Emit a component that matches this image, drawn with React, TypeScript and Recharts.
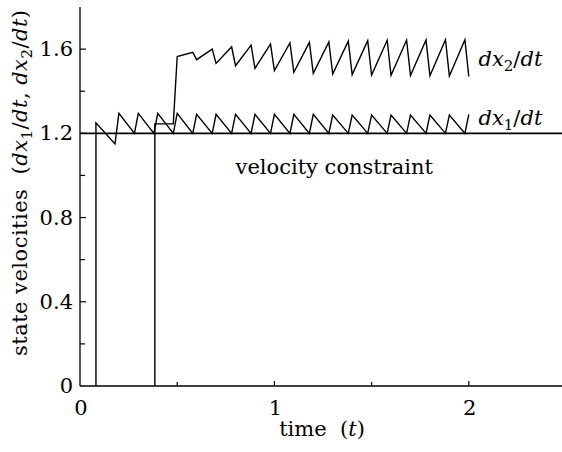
import { LineChart, Line, XAxis, YAxis, ReferenceLine, ReferenceDot } from "recharts";

// time samples and velocities
const dx1Time = [0.082, 0.082, 0.18, 0.2, 0.28, 0.3, 0.38, 0.4, 0.48, 0.5, 0.58, 0.6, 0.68, 0.7, 0.78, 0.8, 0.88, 0.9, 0.98, 1.0, 1.08, 1.1, 1.18, 1.2, 1.28, 1.3, 1.38, 1.4, 1.48, 1.5, 1.58, 1.6, 1.68, 1.7, 1.78, 1.8, 1.88, 1.9, 1.98, 2.0];
const dx1Value = [0, 1.25, 1.15, 1.295, 1.2, 1.295, 1.2, 1.295, 1.2, 1.295, 1.2, 1.29, 1.2, 1.29, 1.2, 1.29, 1.2, 1.29, 1.2, 1.29, 1.2, 1.29, 1.2, 1.29, 1.2, 1.287, 1.2, 1.287, 1.2, 1.287, 1.2, 1.287, 1.2, 1.287, 1.2, 1.287, 1.2, 1.287, 1.2, 1.29];

const dx2Time = [0.385, 0.385, 0.48, 0.5, 0.58, 0.6, 0.68, 0.7, 0.78, 0.8, 0.88, 0.9, 0.98, 1.0, 1.08, 1.1, 1.18, 1.2, 1.28, 1.3, 1.38, 1.4, 1.48, 1.5, 1.58, 1.6, 1.68, 1.7, 1.78, 1.8, 1.88, 1.9, 1.98, 2.0];
const dx2Value = [0, 1.245, 1.245, 1.565, 1.585, 1.55, 1.6, 1.532, 1.611, 1.521, 1.619, 1.509, 1.624, 1.498, 1.629, 1.49, 1.632, 1.485, 1.634, 1.482, 1.638, 1.479, 1.64, 1.477, 1.642, 1.476, 1.643, 1.474, 1.644, 1.473, 1.645, 1.472, 1.645, 1.47];

const velocityLimit = 1.2;

const xTicks = [0, 0.5, 1, 1.5, 2, 2.5];
const xLabels = [0, 1, 2];
const yTicks = [0, 0.2, 0.4, 0.6, 0.8, 1.0, 1.2, 1.4, 1.6, 1.8];
const yLabels = [0, 0.4, 0.8, 1.2, 1.6];

const dx1Data = dx1Time.map((t, i) => ({ t, v: dx1Value[i] }));
const dx2Data = dx2Time.map((t, i) => ({ t, v: dx2Value[i] }));

const FONT = "DejaVu Serif";
const FS = 21;

const BottomTick = (props: any) => {
  const { x, y, payload } = props;
  const v = payload.value;
  const major = xLabels.includes(v);
  return (
    <g>
      {v > 0 && v < 2.5 && (
        <line x1={x} x2={x} y1={y} y2={y - (major ? 5 : 4)} stroke="#000" strokeWidth={1.2} />
      )}
      {major && (
        <text x={x + 1} y={y + 29} textAnchor="middle" fontFamily={FONT} fontSize={FS} fill="#000">
          {v}
        </text>
      )}
    </g>
  );
};

const TopTick = (props: any) => {
  const { x, y, payload } = props;
  const v = payload.value;
  if (v <= 0 || v >= 2.5) return <g />;
  return <line x1={x} x2={x} y1={y} y2={y + (xLabels.includes(v) ? 5 : 4)} stroke="#000" strokeWidth={1.2} />;
};

const LeftTick = (props: any) => {
  const { x, y, payload } = props;
  const v = payload.value;
  const major = yLabels.includes(v);
  return (
    <g>
      {v > 0 && v < 1.8 && (
        <line x1={x} x2={x + (major ? 6 : 5)} y1={y} y2={y} stroke="#000" strokeWidth={1.2} />
      )}
      {major && (
        <text x={x - 7} y={y + 7} textAnchor="end" fontFamily={FONT} fontSize={FS} fill="#000">
          {v === 0 ? "0" : v.toFixed(1)}
        </text>
      )}
    </g>
  );
};

const RightTick = (props: any) => {
  const { x, y, payload } = props;
  const v = payload.value;
  if (v <= 0 || v >= 1.8) return <g />;
  return <line x1={x} x2={x - 5} y1={y} y2={y} stroke="#000" strokeWidth={1.2} />;
};

const subStyle = { fontSize: 15 };

const rateText = (n: string) => [
  <tspan key="a" fontStyle="italic">dx</tspan>,
  <tspan key="b" style={subStyle} dy={5}>{n}</tspan>,
  <tspan key="c" dy={-5}>/</tspan>,
  <tspan key="d" fontStyle="italic">dt</tspan>,
];

const yTitle = () => (
  <text
    transform="rotate(-90)"
    x={-183}
    y={27}
    textAnchor="middle"
    textLength={346}
    lengthAdjust="spacing"
    fontFamily={FONT}
    fontSize={FS}
    fill="#000"
  >
    state velocities{"\u00a0\u00a0"}(
    {rateText("1")}
    ,{"\u00a0"}
    {rateText("2")}
    )
  </text>
);

const xTitle = () => (
  <text x={322} y={436} textAnchor="middle" fontFamily={FONT} fontSize={FS} fill="#000">
    time{"\u00a0\u00a0"}(<tspan fontStyle="italic">t</tspan>)
  </text>
);

const rateLabel = (n: string) => (p: any) => (
  <text x={p.viewBox.x} y={p.viewBox.y} fontFamily={FONT} fontSize={FS} fill="#000">
    {rateText(n)}
  </text>
);

const constraintLabel = (p: any) => (
  <text x={p.viewBox.x} y={p.viewBox.y} fontFamily={FONT} fontSize={FS} fill="#000">
    velocity constraint
  </text>
);

export default function App() {
  return (
    <div style={{ position: "absolute", left: 0, top: 0, width: 562, height: 452, overflow: "hidden", background: "#fff" }}>
      <LineChart width={570} height={452} margin={{ top: 7, right: 4, bottom: 0, left: 0 }}>
        <XAxis
          type="number"
          dataKey="t"
          domain={[0, 2.5]}
          ticks={xTicks}
          interval={0}
          height={66}
          tickSize={0}
          tickMargin={0}
          tickLine={false}
          tick={BottomTick}
          axisLine={{ stroke: "#000", strokeWidth: 1.3 }}
          allowDataOverflow
          label={xTitle}
        />
        <XAxis
          xAxisId="top"
          orientation="top"
          type="number"
          domain={[0, 2.5]}
          ticks={xTicks}
          interval={0}
          height={0}
          tickSize={0}
          tickMargin={0}
          tickLine={false}
          tick={TopTick}
          axisLine={{ stroke: "#000", strokeWidth: 1.3 }}
        />
        <YAxis
          type="number"
          domain={[0, 1.8]}
          ticks={yTicks}
          interval={0}
          width={80}
          tickSize={0}
          tickMargin={0}
          tickLine={false}
          tick={LeftTick}
          axisLine={{ stroke: "#000", strokeWidth: 1.3 }}
          allowDataOverflow
          label={yTitle}
        />
        <YAxis
          yAxisId="right"
          orientation="right"
          type="number"
          domain={[0, 1.8]}
          ticks={yTicks}
          interval={0}
          width={0}
          tickSize={0}
          tickMargin={0}
          tickLine={false}
          tick={RightTick}
          axisLine={{ stroke: "#000", strokeWidth: 1.3 }}
        />
        <ReferenceLine y={velocityLimit} stroke="#000" strokeWidth={1.6} />
        <Line data={dx1Data} dataKey="v" type="linear" stroke="#000" strokeWidth={1.4} dot={false} activeDot={false} isAnimationActive={false} />
        <Line data={dx2Data} dataKey="v" type="linear" stroke="#000" strokeWidth={1.4} dot={false} activeDot={false} isAnimationActive={false} />
        <ReferenceDot x={2.05} y={1.52} r={0} stroke="none" fill="none" label={rateLabel("2")} />
        <ReferenceDot x={2.05} y={1.24} r={0} stroke="none" fill="none" label={rateLabel("1")} />
        <ReferenceDot x={0.8} y={1.005} r={0} stroke="none" fill="none" label={constraintLabel} />
      </LineChart>
    </div>
  );
}
